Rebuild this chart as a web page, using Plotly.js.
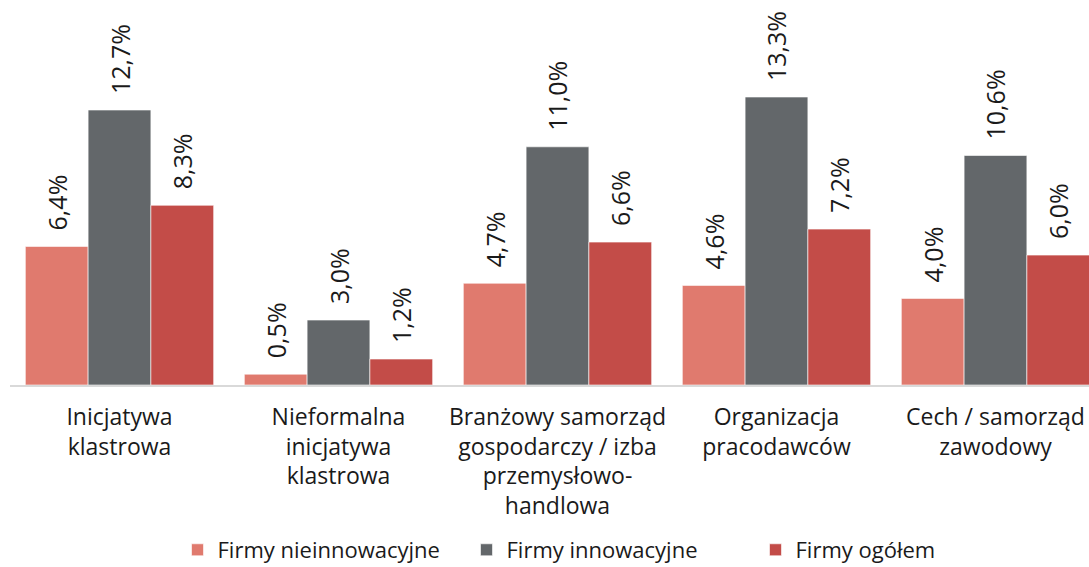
<!DOCTYPE html>
<html>
<head>
<meta charset="utf-8">
<script src="https://cdn.plot.ly/plotly-3.0.1.min.js"></script>
<style>
  html, body { margin: 0; padding: 0; background: #fff; }
  #plotArea { width: 1089px; height: 567px; }
</style>
</head>
<body>
<div id="plotArea"></div>
<script>
// categories (tick labels, wrapped like the original)
var categories = [
    "Inicjatywa<br>klastrowa",
    "Nieformalna<br>inicjatywa<br>klastrowa",
    "Branżowy samorząd<br>gospodarczy / izba<br>przemysłowo-<br>handlowa",
    "Organizacja<br>pracodawców",
    "Cech / samorząd<br>zawodowy"
];

// series values (%)
var nonInnovative = [6.4, 0.5, 4.7, 4.6, 4.0];
var innovative = [12.7, 3.0, 11.0, 13.3, 10.6];
var allFirms = [8.3, 1.2, 6.6, 7.2, 6.0];

var seriesNames = ["Firmy nieinnowacyjne", "Firmy innowacyjne", "Firmy ogółem"];
var seriesColors = ["#e07a6e", "#63676a", "#c34c48"];

function makeTrace(values, i) {
    return {
        x: categories,
        y: values,
        name: seriesNames[i],
        type: "bar",
        marker: {
            color: seriesColors[i],
            line: { color: "rgba(255,255,255,0.6)", width: 1 }
        },
        texttemplate: "\u00a0\u00a0%{y:.1f}%",
        textposition: "outside",
        textangle: -90,
        constraintext: "none",
        cliponaxis: false,
        outsidetextfont: { family: "Open Sans", size: 25, color: "#1a1a1a" },
        hoverinfo: "none"
    };
}

var data = [
    makeTrace(nonInnovative, 0),
    makeTrace(innovative, 1),
    makeTrace(allFirms, 2)
];

var layout = {
    width: 1089,
    height: 567,
    margin: { l: 10, r: 0, t: 0, b: 182 },
    paper_bgcolor: "#fff",
    plot_bgcolor: "#fff",
    separators: ", ",
    font: { family: "Open Sans", size: 23, color: "#1a1a1a" },
    barmode: "group",
    bargap: 0.14,
    bargroupgap: 0,
    xaxis: {
        type: "category",
        range: [-0.5, 4.427],
        showline: true,
        linecolor: "#d9d9d9",
        linewidth: 2,
        ticks: "",
        ticklabelstandoff: 10,
        tickfont: { family: "Open Sans", size: 23, color: "#1a1a1a" },
        tickangle: 0,
        automargin: false
    },
    yaxis: {
        range: [0, 17.78],
        visible: false,
        showgrid: false,
        zeroline: false
    },
    showlegend: true,
    legend: {
        orientation: "h",
        x: 0.163,
        xanchor: "left",
        xref: "container",
        y: 0.03,
        yref: "container",
        yanchor: "middle",
        entrywidth: 244,
        entrywidthmode: "pixels",
        font: { family: "Open Sans", size: 22, color: "#1a1a1a" },
        traceorder: "normal"
    }
};

Plotly.newPlot("plotArea", data, layout, { staticPlot: true });
</script>
</body>
</html>
